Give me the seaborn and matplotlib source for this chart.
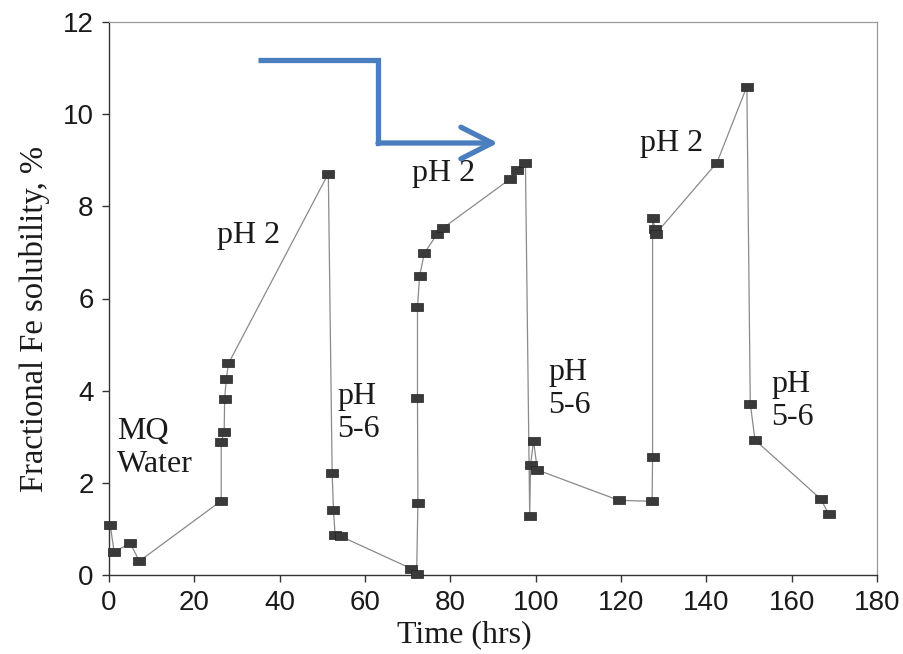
import matplotlib
matplotlib.use("Agg")
import matplotlib.pyplot as plt
import seaborn as sns
import pandas as pd

# ---- data ----
time_hrs = [0.3, 1.2, 5.0, 7.1, 26.3, 26.3, 27.0, 27.1, 27.5, 28.0,
            51.4, 52.3, 52.6, 53.0, 54.3, 70.8, 72.1, 72.4, 72.3, 72.3,
            72.8, 73.9, 76.9, 78.3, 94.1, 95.7, 97.6, 98.6, 98.8, 99.5,
            100.4, 119.5, 127.3, 127.4, 127.4, 128.0, 128.1, 142.5, 149.5,
            150.3, 151.4, 166.8, 168.7]
fe_solubility = [1.08, 0.50, 0.69, 0.30, 1.61, 2.88, 3.11, 3.83, 4.26, 4.59,
                 8.71, 2.21, 1.42, 0.86, 0.84, 0.14, 0.02, 1.56, 3.85, 5.82,
                 6.49, 6.98, 7.40, 7.53, 8.60, 8.78, 8.95, 1.29, 2.39, 2.91,
                 2.28, 1.62, 1.60, 2.57, 7.75, 7.50, 7.40, 8.95, 10.60,
                 3.72, 2.93, 1.65, 1.32]
x_ticks = [0, 20, 40, 60, 80, 100, 120, 140, 160, 180]
y_ticks = [0, 2, 4, 6, 8, 10, 12]
phase_labels = ["MQ\nWater", "pH 2", "pH\n5-6", "pH 2", "pH\n5-6", "pH 2", "pH\n5-6"]
x_label = "Time (hrs)"
y_label = "Fractional Fe solubility, %"

df = pd.DataFrame({"t": time_hrs, "fe": fe_solubility})

sns.set_theme(style="ticks")
plt.rcParams["font.family"] = ["Liberation Sans", "DejaVu Sans"]

fig = plt.figure(figsize=(9.04, 6.54), dpi=100)
ax = fig.add_axes([109 / 904, 1 - 575 / 654, 768 / 904, 553 / 654])

sns.lineplot(data=df, x="t", y="fe", ax=ax, sort=False, estimator=None,
             color="#8a8a8a", linewidth=0.9, zorder=2)
rect = [(-1, -0.74), (1, -0.74), (1, 0.74), (-1, 0.74), (-1, -0.74)]
sns.scatterplot(data=df, x="t", y="fe", ax=ax, marker=rect, s=75,
                color="#3a3a3a", edgecolor="#222222", linewidth=0.5,
                zorder=3, clip_on=False)

ax.set_xlim(0, 180)
ax.set_ylim(0, 12)
ax.set_xticks(x_ticks)
ax.set_yticks(y_ticks)
ax.set_xticklabels([str(v) for v in x_ticks])
ax.set_yticklabels([str(v) for v in y_ticks])
ax.tick_params(axis="both", labelsize=20, length=5, width=1, color="#333333",
               labelcolor="#1a1a1a", direction="out", pad=6)
for lab in ax.get_xticklabels() + ax.get_yticklabels():
    lab.set_family(["Liberation Sans", "DejaVu Sans"])

for side in ["left", "bottom"]:
    ax.spines[side].set_color("#333333")
    ax.spines[side].set_linewidth(1.0)
for side in ["top", "right"]:
    ax.spines[side].set_visible(True)
    ax.spines[side].set_color("#9a9a9a")
    ax.spines[side].set_linewidth(0.9)

serif = ["Liberation Serif", "DejaVu Serif"]
ax.set_xlabel(x_label, fontsize=23, family=serif, color="#1a1a1a")
ax.set_ylabel(y_label, fontsize=23.5, family=serif, color="#1a1a1a")
ax.xaxis.set_label_coords(0.463, -0.082)
ax.yaxis.set_label_coords(-0.077, 0.463)

# phase annotations (pixel positions: left edge, last-line baseline)
label_px = [(117, 472), (217, 243), (337, 437), (412, 181), (548, 413),
            (640, 151), (771, 425)]
for text, (px, py) in zip(phase_labels, label_px):
    ax.text((px - 109) / 768 * 180, (575 - py) / 553 * 12, text,
            family=serif, fontsize=23, color="#1a1a1a", ha="left",
            va="baseline", linespacing=1.18, zorder=4)

# blue arrow annotation (pixel path converted to data coords)
def to_data(px, py):
    return (px - 109) / 768 * 180, (575 - py) / 553 * 12

p0, p1, p2, p3 = to_data(258, 60), to_data(378, 60), to_data(378, 143), to_data(498, 143)
blue = "#4a7ebf"
ax.plot([p0[0], p1[0], p2[0], p2[0] + 0.5], [p0[1], p1[1], p2[1], p2[1]],
        color=blue, lw=3.8, solid_joinstyle="miter", solid_capstyle="butt", zorder=5)
ax.annotate("", xy=p3, xytext=p2,
            arrowprops=dict(arrowstyle="->,head_length=0.75,head_width=0.38",
                            color=blue, lw=3.8, mutation_scale=30,
                            shrinkA=0, shrinkB=0, capstyle="round"),
            zorder=5)

fig.savefig("out.png", dpi=100, facecolor="white")
